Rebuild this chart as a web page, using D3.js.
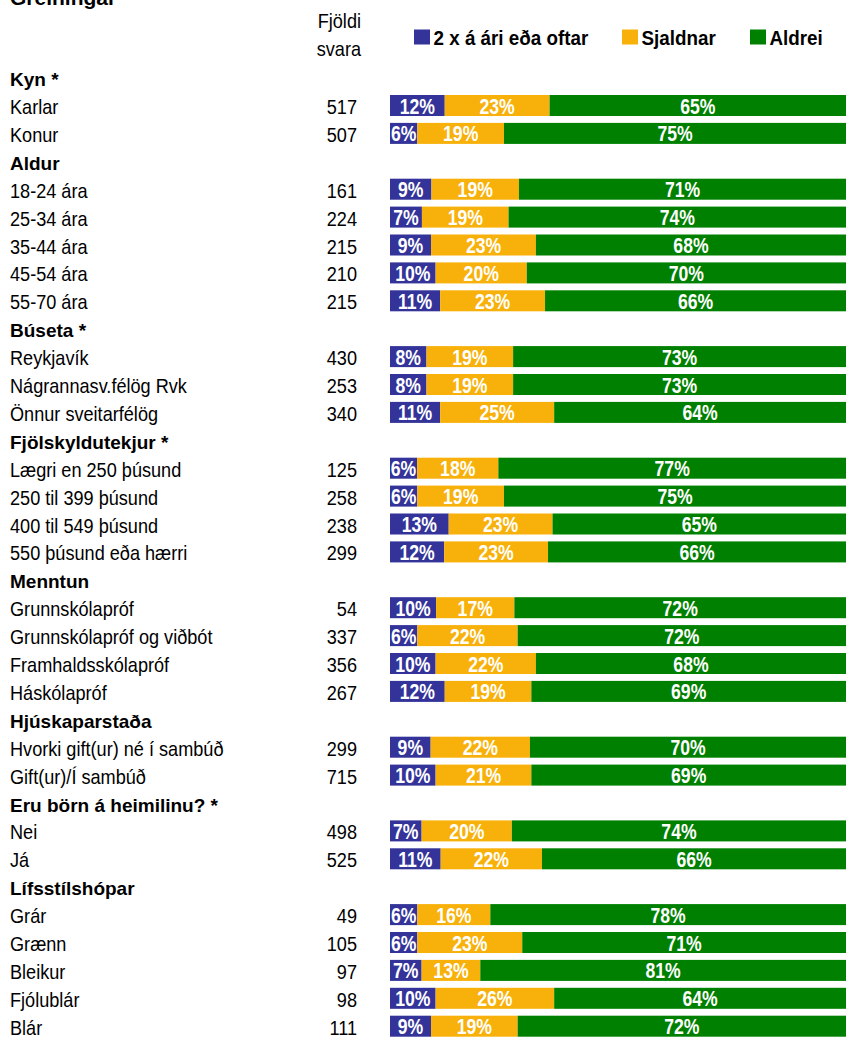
<!DOCTYPE html>
<html>
<head>
<meta charset="utf-8">
<script src="https://cdn.jsdelivr.net/npm/d3@7"></script>
<style>
  html, body { margin: 0; padding: 0; background: #fff; }
  svg { display: block; }
  text { font-family: "Liberation Sans", Arial, Helvetica, sans-serif; }
</style>
</head>
<body>
<svg id="chart" width="853" height="1037"></svg>
<script>
// ---- Data ----
const title = "Greiningar";
const countHeader = ["Fjöldi", "svara"];
const seriesNames = ["2 x á ári eða oftar", "Sjaldnar", "Aldrei"];
const seriesColors = ["#333399", "#F8B10A", "#008000"];

const categories = [
  "Kyn *", "Karlar", "Konur",
  "Aldur", "18-24 ára", "25-34 ára", "35-44 ára", "45-54 ára", "55-70 ára",
  "Búseta *", "Reykjavík", "Nágrannasv.félög Rvk", "Önnur sveitarfélög",
  "Fjölskyldutekjur *", "Lægri en 250 þúsund", "250 til 399 þúsund", "400 til 549 þúsund", "550 þúsund eða hærri",
  "Menntun", "Grunnskólapróf", "Grunnskólapróf og viðbót", "Framhaldsskólapróf", "Háskólapróf",
  "Hjúskaparstaða", "Hvorki gift(ur) né í sambúð", "Gift(ur)/Í sambúð",
  "Eru börn á heimilinu? *", "Nei", "Já",
  "Lífsstílshópar", "Grár", "Grænn", "Bleikur", "Fjólublár", "Blár"
];
// null = group header row
const counts = [
  null, 517, 507,
  null, 161, 224, 215, 210, 215,
  null, 430, 253, 340,
  null, 125, 258, 238, 299,
  null, 54, 337, 356, 267,
  null, 299, 715,
  null, 498, 525,
  null, 49, 105, 97, 98, 111
];
const oftenPct = [
  null, 12, 6,
  null, 9, 7, 9, 10, 11,
  null, 8, 8, 11,
  null, 6, 6, 13, 12,
  null, 10, 6, 10, 12,
  null, 9, 10,
  null, 7, 11,
  null, 6, 6, 7, 10, 9
];
const seldomPct = [
  null, 23, 19,
  null, 19, 19, 23, 20, 23,
  null, 19, 19, 25,
  null, 18, 19, 23, 23,
  null, 17, 22, 22, 19,
  null, 22, 21,
  null, 20, 22,
  null, 16, 23, 13, 26, 19
];
const neverPct = [
  null, 65, 75,
  null, 71, 74, 68, 70, 66,
  null, 73, 73, 64,
  null, 77, 75, 65, 66,
  null, 72, 72, 68, 69,
  null, 70, 69,
  null, 74, 66,
  null, 78, 71, 81, 64, 72
];

// ---- Drawing ----
const svg = d3.select("#chart");
const step = 27.9;
const top0 = 63.65;
const y = d3.scaleBand()
  .domain(d3.range(categories.length))
  .range([top0, top0 + categories.length * step])
  .paddingInner(0.247)
  .paddingOuter(0.1235);
const barLeft = 390, barRight = 846;

function addText(g, x, yy, txt, o) {
  return g.append("text")
    .attr("transform", `translate(${x},${yy}) scale(${o.sx || 1},1)`)
    .attr("text-anchor", o.anchor || "start")
    .attr("font-size", o.size)
    .attr("font-weight", o.weight || "normal")
    .attr("fill", o.fill || "#000")
    .text(txt);
}

// Title (partially cut at top)
addText(svg, 10, 5, title, { size: 21, weight: "bold", sx: 1.0 });

// Count column header
addText(svg, 361, 28, countHeader[0], { size: 19.5, sx: 0.93, anchor: "end" });
addText(svg, 361, 56, countHeader[1], { size: 19.5, sx: 0.93, anchor: "end" });

// Legend
const legendX = [414, 622, 750];
const legend = svg.append("g");
seriesNames.forEach((name, i) => {
  legend.append("rect")
    .attr("x", legendX[i]).attr("y", 29.5)
    .attr("width", 16).attr("height", 15)
    .attr("fill", seriesColors[i]);
  addText(legend, legendX[i] + 19.5, 44.5, name, { size: 19.5, weight: "bold", sx: 0.965 });
});

// Rows
const rows = svg.append("g");
categories.forEach((cat, i) => {
  const cy = y(i) + y.bandwidth() / 2;
  if (counts[i] === null) {
    addText(rows, 10, cy + 8.5, cat, { size: 19, weight: "bold", sx: 1.0 });
    return;
  }
  addText(rows, 10, cy + 8.5, cat, { size: 19.5, sx: 0.93 });
  addText(rows, 357, cy + 8.5, counts[i], { size: 19.5, sx: 0.93, anchor: "end" });

  const vals = [oftenPct[i], seldomPct[i], neverPct[i]];
  const total = d3.sum(vals);
  const x = d3.scaleLinear().domain([0, total]).range([barLeft, barRight]);
  let cum = 0;
  vals.forEach((v, k) => {
    const x0 = x(cum), x1 = x(cum + v);
    rows.append("rect")
      .attr("x", x0).attr("y", y(i))
      .attr("width", x1 - x0).attr("height", y.bandwidth())
      .attr("fill", seriesColors[k]);
    cum += v;
  });
  cum = 0;
  vals.forEach((v, k) => {
    const x0 = x(cum), x1 = x(cum + v);
    addText(rows, (x0 + x1) / 2, cy + 8, v + "%", { size: 22, weight: "bold", sx: 0.8, anchor: "middle", fill: "#fff" });
    cum += v;
  });
});
</script>
</body>
</html>
